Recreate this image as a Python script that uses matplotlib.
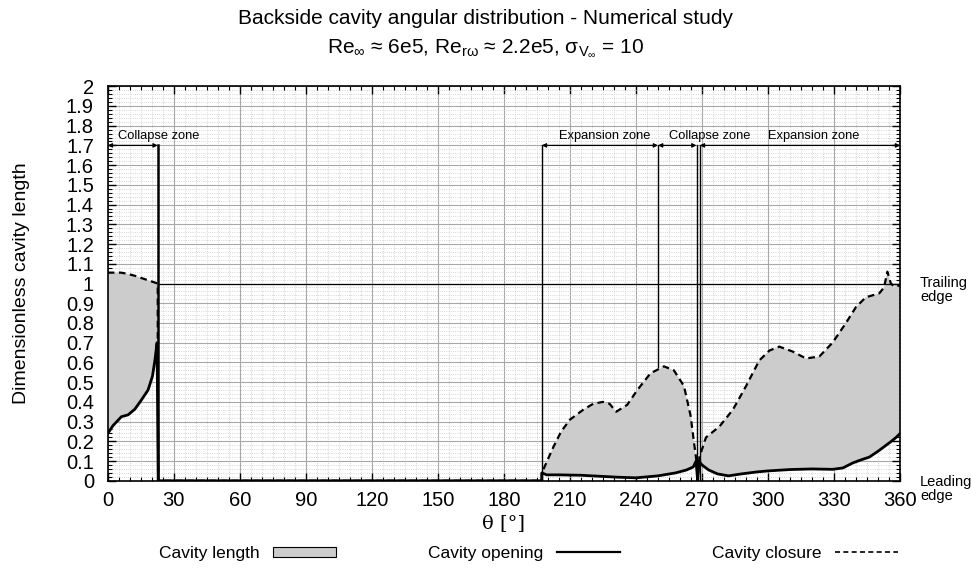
import numpy as np
import matplotlib.pyplot as plt
from matplotlib.patches import Patch
from matplotlib.lines import Line2D
from matplotlib.ticker import MultipleLocator, FormatStrFormatter

plt.rcParams['font.family'] = ['Liberation Sans', 'DejaVu Sans']
plt.rcParams['mathtext.fontset'] = 'custom'
plt.rcParams['mathtext.rm'] = 'Liberation Sans'
plt.rcParams['mathtext.it'] = 'Liberation Sans'

# cavity closure (dashed)
theta_close = [0, 6, 8.5, 12, 16, 20, 22.7, 22.7, 22.9, 197.2,
               197.2, 202.4, 206, 210, 216, 220.5, 225, 228, 231, 236, 240.6, 246.6,
               252.7, 257.2, 261.8, 264.8, 266.4, 267.6, 268.0,
               268.8, 271.8, 277.9, 284, 290, 296, 300.6, 305.1, 311.2, 317.2,
               323.3, 329.3, 335.4, 339.9, 344.4, 350.5, 352.7, 354.2, 355.8, 357.3, 360]
closure = [1.055, 1.055, 1.05, 1.04, 1.025, 1.01, 1.0, 0.70, 0.0, 0.0,
           0.04, 0.17, 0.25, 0.31, 0.36, 0.39, 0.40, 0.39, 0.35, 0.385, 0.46, 0.545,
           0.58, 0.56, 0.48, 0.33, 0.19, 0.09, 0.0,
           0.12, 0.22, 0.275, 0.36, 0.48, 0.61, 0.66, 0.68, 0.655, 0.62,
           0.63, 0.70, 0.80, 0.88, 0.93, 0.95, 0.98, 1.06, 1.0, 0.985, 0.99]

# cavity opening (solid)
theta_open = [0, 2.4, 6.2, 9.2, 12.3, 15.3, 18.3, 20.3, 21.4, 22.4, 22.9, 197.2,
              197.2, 199.4, 205, 215, 225, 232, 240, 250, 258, 263, 266, 267.3, 268.0,
              268.6, 270, 273, 277, 282, 288, 295, 300, 310, 320, 329.3, 334,
              338.4, 342, 346, 350, 353.6, 356, 358.2, 360]
opening = [0.24, 0.28, 0.325, 0.334, 0.363, 0.41, 0.46, 0.53, 0.61, 0.70, 0.0, 0.0,
           0.04, 0.03, 0.03, 0.028, 0.022, 0.018, 0.015, 0.025, 0.04, 0.055, 0.07, 0.1, 0.0,
           0.1, 0.08, 0.055, 0.035, 0.025, 0.035, 0.045, 0.05, 0.057, 0.06, 0.058, 0.065,
           0.09, 0.105, 0.12, 0.15, 0.18, 0.2, 0.22, 0.24]

# zones along the top
zone_edges = [(0, 22.7), (197.2, 250), (250, 267.5), (269, 360)]
zone_names = ['Collapse zone', 'Expansion zone', 'Collapse zone', 'Expansion zone']
zone_text_x = [4.5, 205, 255, 300]

fig = plt.figure(figsize=(9.71, 5.71), dpi=100)
ax = fig.add_axes([0.111, 0.158, 0.816, 0.691])

fill_col = '#cccccc'
ax.fill(np.concatenate([theta_close, theta_open[::-1]]),
        np.concatenate([closure, opening[::-1]]),
        color=fill_col, lw=0, zorder=2)
ax.plot(theta_open, opening, color='k', lw=2.0, zorder=4)
ax.plot(theta_close, closure, color='k', lw=1.6, ls=(0, (3, 2)), zorder=4)

# zone boundaries
ax.plot([22.7, 22.7], [0, 1.7], color='k', lw=1.8, zorder=3)
ax.plot([197.2, 197.2], [0, 1.7], color='k', lw=1.0, zorder=3)
ax.plot([250, 250], [0.575, 1.7], color='k', lw=1.0, zorder=3)
ax.plot([267.5, 267.5], [0, 1.7], color='k', lw=1.0, zorder=3)
ax.plot([269, 269], [0, 1.7], color='k', lw=1.0, zorder=3)
ax.plot([22.7, 360], [1.0, 1.0], color='k', lw=0.9, zorder=3)

for (a, b), name, tx in zip(zone_edges, zone_names, zone_text_x):
    ax.annotate('', xy=(a, 1.7), xytext=(b, 1.7),
                arrowprops=dict(arrowstyle='<|-|>', color='k', lw=0.9,
                                mutation_scale=6, shrinkA=0, shrinkB=0), zorder=5)
    ax.text(tx, 1.75, name, fontsize=9.3, ha='left', va='center', zorder=5)

ax.set_xlim(0, 360)
ax.set_ylim(0, 2)
ax.xaxis.set_major_locator(MultipleLocator(30))
ax.xaxis.set_minor_locator(MultipleLocator(5))
ax.yaxis.set_major_locator(MultipleLocator(0.1))
ax.yaxis.set_minor_locator(MultipleLocator(0.02))
ax.yaxis.set_major_formatter(FormatStrFormatter('%g'))
ax.tick_params(which='both', direction='in', top=True, right=True, labelsize=14.5)
ax.tick_params(which='major', length=6, width=1)
ax.tick_params(which='minor', length=3, width=0.8)
ax.tick_params(axis='x', which='major', pad=7)
ax.tick_params(axis='y', which='major', pad=10)
ax.grid(which='major', color='#a8a8a8', lw=0.8, zorder=0)
ax.grid(which='minor', color='#c8c8c8', lw=0.6, ls=':', zorder=0)
ax.set_axisbelow(True)
for s in ax.spines.values():
    s.set_linewidth(1.2)

ax.set_xlabel('θ [°]', fontsize=14, family=['DejaVu Serif'], labelpad=3)
ax.set_ylabel('Dimensionless cavity length', fontsize=14, labelpad=26)

ax.text(1.025, 0.965, 'Trailing\nedge', transform=ax.get_yaxis_transform(),
        fontsize=10.5, ha='left', va='center', linespacing=1.0)
ax.text(1.025, -0.04, 'Leading\nedge', transform=ax.get_yaxis_transform(),
        fontsize=10.5, ha='left', va='center', linespacing=1.0)

fig.text(0.5, 0.968, 'Backside cavity angular distribution - Numerical study',
         fontsize=15, ha='center', va='center')
fig.text(0.5, 0.915,
         r'Re$_\infty$ ≈ 6e5, Re$_{r\omega}$ ≈ 2.2e5, σ$_{V_\infty}$ = 10',
         fontsize=15, ha='center', va='center')

handles = [Patch(facecolor=fill_col, edgecolor='k', lw=0.8),
           Line2D([], [], color='k', lw=1.6),
           Line2D([], [], color='k', lw=1.2, ls=(0, (3, 2)))]
fig.legend(handles, ['Cavity length', 'Cavity opening', 'Cavity closure'],
           loc='lower center', bbox_to_anchor=(0.544, -0.01), ncol=3, frameon=False,
           markerfirst=False, fontsize=12.5, handlelength=3.6, handleheight=0.55,
           columnspacing=5.3)

fig.savefig('out.png', dpi=100)
